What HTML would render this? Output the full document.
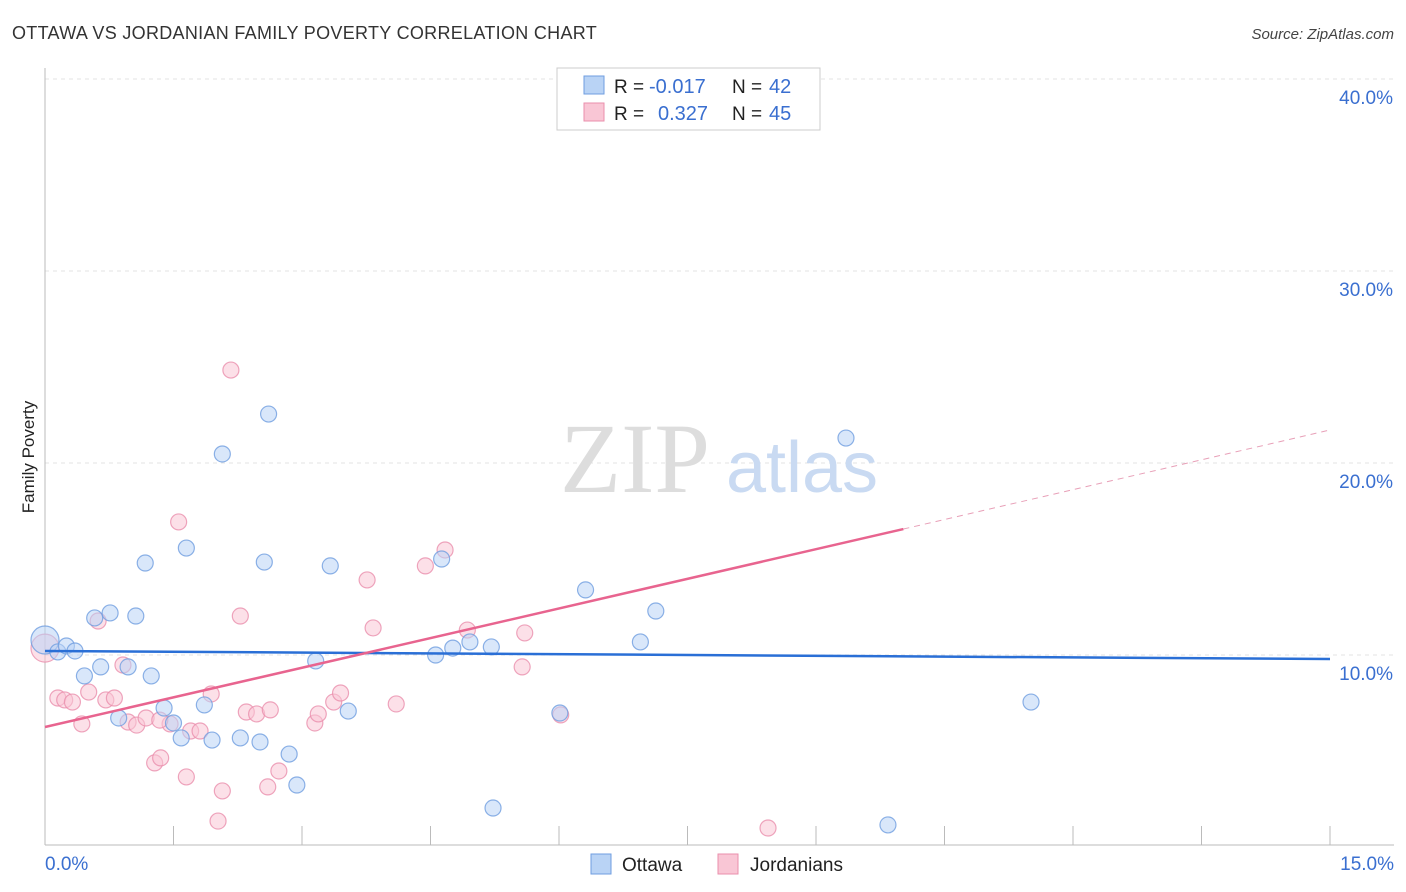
<!DOCTYPE html>
<html><head><meta charset="utf-8"><style>
body{margin:0;background:#fff;font-family:"Liberation Sans",sans-serif}
</style></head><body>
<svg id="chart" width="1406" height="892" xmlns="http://www.w3.org/2000/svg" style="display:block">
<text x="12" y="39" font-size="18" fill="#333" letter-spacing="0.3">OTTAWA VS JORDANIAN FAMILY POVERTY CORRELATION CHART</text>
<text x="1394" y="39" font-size="15" fill="#444" text-anchor="end" font-style="italic">Source: ZipAtlas.com</text>
<text transform="translate(34,457) rotate(-90)" font-size="17" fill="#222" text-anchor="middle">Family Poverty</text>
<g id="grid"></g>
<g><text x="635" y="492" font-size="100" font-family="Liberation Serif" fill="#ddd" text-anchor="middle">ZIP</text><text x="802" y="492" font-size="72" fill="#c9daf2" text-anchor="middle">atlas</text></g>
<g id="marks"></g>
<g>
<rect x="557" y="68" width="263" height="62" fill="#fff" stroke="#ccc"/>
<rect x="584" y="76" width="20" height="18" fill="#b9d3f5" stroke="#6f9ee0"/>
<rect x="584" y="103" width="20" height="18" fill="#f9c6d5" stroke="#ea8fac"/>
<text x="614" y="93" font-size="19" fill="#222">R =</text>
<text x="649" y="93" font-size="20" fill="#3a6fd0">-0.017</text>
<text x="732" y="93" font-size="19" fill="#222">N =</text>
<text x="769" y="93" font-size="20" fill="#3a6fd0">42</text>
<text x="614" y="120" font-size="19" fill="#222">R =</text>
<text x="658" y="120" font-size="20" fill="#3a6fd0">0.327</text>
<text x="732" y="120" font-size="19" fill="#222">N =</text>
<text x="769" y="120" font-size="20" fill="#3a6fd0">45</text>
</g>
<g>
<rect x="591" y="854" width="20" height="20" fill="#b9d3f5" stroke="#6f9ee0"/>
<text x="622" y="871" font-size="19" fill="#222">Ottawa</text>
<rect x="718" y="854" width="20" height="20" fill="#f9c6d5" stroke="#ea8fac"/>
<text x="750" y="871" font-size="19" fill="#222">Jordanians</text>
</g>
</svg>
<script>
const xTickLabels=["0.0%","15.0%"];
const yTicks=[10,20,30,40];
const ottawaX=[0,0.15,0.25,0.35,0.46,0.58,0.65,0.76,0.86,0.97,1.06,1.17,1.24,1.39,1.50,1.59,1.65,1.86,1.95,2.07,2.28,2.51,2.56,2.61,2.85,2.94,3.16,3.33,3.54,4.56,4.63,4.76,4.96,5.21,5.23,6.01,6.31,6.95,7.13,9.35,9.84,11.51];
const ottawaY=[10.78,10.16,10.47,10.21,8.91,11.93,9.38,12.19,6.72,9.38,12.03,14.79,8.91,7.24,6.46,5.68,15.57,7.40,5.57,20.47,5.68,5.47,14.84,22.55,4.84,3.23,9.69,14.64,7.08,10.0,15.0,10.36,10.68,10.42,2.03,6.98,13.39,10.68,12.29,21.30,1.15,7.55];
const jordX=[0,0.15,0.23,0.32,0.43,0.51,0.62,0.71,0.81,0.91,0.97,1.07,1.18,1.28,1.35,1.46,1.56,1.65,1.70,1.81,1.94,2.02,2.07,2.17,2.28,2.35,2.47,2.60,2.63,2.73,3.15,3.19,3.37,3.45,3.76,3.83,4.10,4.44,4.67,4.93,5.57,5.60,6.02,8.44,1.34];
const jordY=[10.36,7.76,7.66,7.55,6.41,8.07,11.77,7.66,7.76,9.48,6.51,6.35,6.72,4.38,4.64,6.41,16.93,3.65,6.04,6.04,7.97,1.35,2.92,24.84,12.03,7.03,6.93,3.13,7.14,3.96,6.46,6.93,7.55,8.02,13.91,11.41,7.45,14.64,15.47,11.30,9.38,11.15,6.88,0.99,6.61];
const ottawaTrend=[10.21,9.79];
const jordTrend=[6.25,16.56,21.72];
const jordSolidEnd=10.02;

const NS="http://www.w3.org/2000/svg";
const sx=v=>45+v*(1285/15);
const sy=v=>847-v*19.2;
function mk(tag,attrs,parent){const e=document.createElementNS(NS,tag);for(const k in attrs)e.setAttribute(k,attrs[k]);parent.appendChild(e);return e;}
const grid=document.getElementById('grid'),marks=document.getElementById('marks');
yTicks.forEach(t=>{
 const l=mk('line',{x1:45,x2:1394,y1:sy(t),y2:sy(t),stroke:'#e3e3e3','stroke-dasharray':'4,4'},grid);
 
 
 const tx=mk('text',{x:1393,y:sy(t)+25,'font-size':19,fill:'#3a6fd0','text-anchor':'end'},grid);
 tx.textContent=t.toFixed(1)+'%';
 
 
});
const ax=mk('line',{x1:45,x2:1394,y1:845,y2:845,stroke:'#bbb'},grid);


const ay=mk('line',{x1:45,x2:45,y1:68,y2:845,stroke:'#bbb'},grid);


for(let i=0;i<=10;i++){const t=mk('line',{x1:sx(i*1.5),x2:sx(i*1.5),y1:826,y2:845,stroke:'#bbb'},grid);
 
 }
[[0,'start',45],[15,'end',1394]].forEach((d,i)=>{const t=mk('text',{x:d[2],y:870,'font-size':19,fill:'#3a6fd0','text-anchor':d[1]},grid);t.textContent=xTickLabels[i];
 
 });
function pts(X,Y,fill,stroke,name){X.forEach((x,i)=>{const c=mk('circle',{cx:sx(x),cy:sy(Y[i]),r:i===0?14:8,fill:fill,'fill-opacity':0.55,stroke:stroke,'stroke-width':1.2,'stroke-opacity':0.8},marks);
 
 });}
pts(jordX,jordY,'#f9c6d5','#ea8fac','jordanians-point');
pts(ottawaX,ottawaY,'#b9d3f5','#6f9ee0','ottawa-point');
const bl=mk('line',{x1:sx(0),y1:sy(ottawaTrend[0]),x2:sx(15),y2:sy(ottawaTrend[1]),stroke:'#2a6fd6','stroke-width':2.5},marks);


const pl=mk('line',{x1:sx(0),y1:sy(jordTrend[0]),x2:sx(jordSolidEnd),y2:sy(jordTrend[1]),stroke:'#e8648f','stroke-width':2.5},marks);


const pd=mk('line',{x1:sx(jordSolidEnd),y1:sy(jordTrend[1]),x2:sx(15),y2:sy(jordTrend[2]),stroke:'#e8a0b8','stroke-width':1,'stroke-dasharray':'6,5'},marks);


</script>
</body></html>
